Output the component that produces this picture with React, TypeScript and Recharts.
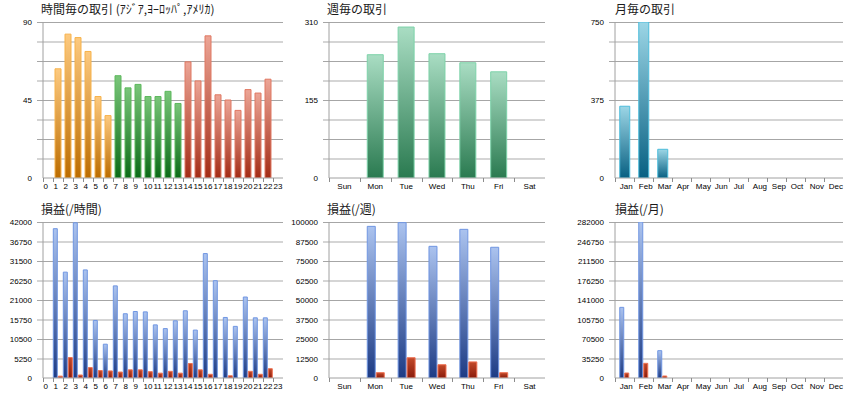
import React from 'react';
import { BarChart, Bar, XAxis, YAxis, CartesianGrid, Cell } from 'recharts';

// ---------- data ----------
const hourLabels = ['0', '1', '2', '3', '4', '5', '6', '7', '8', '9', '10', '11', '12', '13', '14', '15', '16', '17', '18', '19', '20', '21', '22', '23'];
const hourRegion = ['asia', 'asia', 'asia', 'asia', 'asia', 'asia', 'asia', 'europe', 'europe', 'europe', 'europe', 'europe', 'europe', 'europe', 'america', 'america', 'america', 'america', 'america', 'america', 'america', 'america', 'america', 'america'];
const hourlyTrades = [null, 63, 83, 81, 73, 47, 36, 59, 52, 54, 47, 47, 50, 43, 67, 56, 82, 48, 45, 39, 51, 49, 57, null];
const hourlyProfit = [null, 40200, 28500, 41800, 29100, 15500, 9100, 24800, 17300, 17900, 17800, 14300, 13300, 15400, 18100, 12900, 33500, 26200, 16300, 13900, 21800, 16200, 16200, null];
const hourlyLoss = [null, 500, 5500, 800, 2800, 2000, 1900, 1600, 2200, 2200, 1700, 1300, 1800, 1300, 3900, 2200, 1000, null, 600, null, 1800, 1000, 2500, null];

const weekLabels = ['Sun', 'Mon', 'Tue', 'Wed', 'Thu', 'Fri', 'Sat'];
const weeklyTrades = [null, 245, 300, 247, 229, 211, null];
const weeklyProfit = [null, 97200, 99600, 84400, 95300, 83800, null];
const weeklyLoss = [null, 3400, 13000, 8500, 10300, 3400, null];

const monthLabels = ['Jan', 'Feb', 'Mar', 'Apr', 'May', 'Jun', 'Jul', 'Aug', 'Sep', 'Oct', 'Nov', 'Dec'];
const monthlyTrades = [345, 750, 138, null, null, null, null, null, null, null, null, null];
const monthlyProfit = [127700, 282000, 49400, null, null, null, null, null, null, null, null, null];
const monthlyLoss = [9000, 26500, 3600, null, null, null, null, null, null, null, null, null];

// tick values and labels
const hourTradeTicks = [0, 11.25, 22.5, 33.75, 45, 56.25, 67.5, 78.75, 90];
const hourTradeTickLabels = ['0', '', '', '', '45', '', '', '', '90'];
const weekTradeTicks = [0, 38.75, 77.5, 116.25, 155, 193.75, 232.5, 271.25, 310];
const weekTradeTickLabels = ['0', '', '', '', '155', '', '', '', '310'];
const monthTradeTicks = [0, 93.75, 187.5, 281.25, 375, 468.75, 562.5, 656.25, 750];
const monthTradeTickLabels = ['0', '', '', '', '375', '', '', '', '750'];
const hourProfitTicks = [0, 5250, 10500, 15750, 21000, 26250, 31500, 36750, 42000];
const hourProfitTickLabels = ['0', '5250', '10500', '15750', '21000', '26250', '31500', '36750', '42000'];
const weekProfitTicks = [0, 12500, 25000, 37500, 50000, 62500, 75000, 87500, 100000];
const weekProfitTickLabels = ['0', '12500', '25000', '37500', '50000', '62500', '75000', '87500', '100000'];
const monthProfitTicks = [0, 35250, 70500, 105750, 141000, 176250, 211500, 246750, 282000];
const monthProfitTickLabels = ['0', '35250', '70500', '105750', '141000', '176250', '211500', '246750', '282000'];

const titles = {
  hourTrades: '時間毎の取引 (ｱｼﾞｱ,ﾖｰﾛｯﾊﾟ,ｱﾒﾘｶ)',
  weekTrades: '週毎の取引',
  monthTrades: '月毎の取引',
  hourProfit: '損益(/時間)',
  weekProfit: '損益(/週)',
  monthProfit: '損益(/月)',
};

// ---------- styles ----------
const AXIS_FONT = '"Liberation Sans", Arial, sans-serif';
const TITLE_FONT = '"Noto Sans CJK JP", "Noto Sans", sans-serif';
const PLOT_TOP = 22;
const PLOT_H = 156;
const CHART_H = 200;

const regionFill: Record<string, string> = { asia: 'url(#g-asia)', europe: 'url(#g-europe)', america: 'url(#g-america)' };
const regionStroke: Record<string, string> = { asia: '#f7b24a', europe: '#5cb85c', america: '#e07862' };

const gradients = [
  { id: 'g-asia', top: '#fdca80', bottom: '#bb6c00' },
  { id: 'g-europe', top: '#7ac67a', bottom: '#0b6a17' },
  { id: 'g-america', top: '#eca596', bottom: '#a32c16' },
  { id: 'g-week', top: '#a9ddc3', bottom: '#2a7a50' },
  { id: 'g-month', top: '#9cd6e6', bottom: '#086082' },
  { id: 'g-profit', top: '#abc3ef', bottom: '#1d3b84' },
  { id: 'g-loss', top: '#c24a2a', bottom: '#8a1b0b' },
];

const gridLine = (p: any) => {
  const idx = Math.round((p.y1 - PLOT_TOP) / (PLOT_H / 8));
  const k = p.key ?? `gl-${idx}`;
  if (idx >= 8) return <g key={k} />;
  const odd = idx % 2 === 1;
  const y = odd ? Math.round(p.y1) : Math.round(p.y1) + 0.5;
  return (
    <line
      key={k}
      x1={p.x1 - 6}
      x2={p.x2}
      y1={y}
      y2={y}
      stroke={odd ? '#d5d5d5' : '#a6a6a6'}
      strokeWidth={odd ? 2 : 1}
    />
  );
};

const makeYTick = (ticks: number[], labels: string[]) => (p: any) => {
  const i = ticks.indexOf(p.payload.value);
  const lab = labels[i];
  if (!lab) return <g />;
  return (
    <text x={p.x - 11} y={p.y + 3} textAnchor="end" fontSize={8} fontFamily={AXIS_FONT} fill="#000">
      {lab}
    </text>
  );
};

const makeXTick = (band: number, mode: 'start' | 'middle', offset: number) => (p: any) => {
  const bx = Math.round(p.x - band / 2) + 0.5;
  return (
    <g>
      <line x1={bx} x2={bx} y1={p.y} y2={p.y + 4} stroke="#8c8c8c" />
      <text
        x={mode === 'start' ? p.x - offset : p.x}
        y={p.y + 11}
        textAnchor={mode}
        fontSize={8}
        fontFamily={AXIS_FONT}
        fill="#000"
      >
        {p.payload.value}
      </text>
    </g>
  );
};

type BarDef = { key: string; fill: (i: number) => string; stroke: (i: number) => string };

type PanelProps = {
  left: number;
  top: number;
  width: number;
  plotLeft: number;
  plotRight: number;
  data: any[];
  ticks: number[];
  tickLabels: string[];
  bars: BarDef[];
  barCategoryGap: string;
  barGap: number;
  xMode: 'start' | 'middle';
  xOffset: number;
};

function Panel(props: PanelProps) {
  const { left, top, width, plotLeft, plotRight, data, ticks, tickLabels, bars, barCategoryGap, barGap, xMode, xOffset } = props;
  const yAxisWidth = plotLeft - left;
  const marginRight = left + width - plotRight;
  const band = (plotRight - plotLeft) / data.length;
  return (
    <div style={{ position: 'absolute', left, top, width, height: CHART_H }}>
      <BarChart
        width={width}
        height={CHART_H}
        data={data}
        margin={{ top: PLOT_TOP, right: marginRight, bottom: 0, left: 0 }}
        barCategoryGap={barCategoryGap}
        barGap={barGap}
      >
        <CartesianGrid horizontal={gridLine} vertical={false} />
        <XAxis
          dataKey="name"
          interval={0}
          height={CHART_H - PLOT_TOP - PLOT_H}
          tickSize={0}
          tickMargin={0}
          tickLine={false}
          axisLine={{ stroke: '#a0a0a0' }}
          tick={makeXTick(band, xMode, xOffset)}
        />
        <YAxis
          width={yAxisWidth}
          domain={[ticks[0], ticks[ticks.length - 1]]}
          ticks={ticks}
          interval={0}
          tickSize={0}
          tickMargin={0}
          tickLine={false}
          axisLine={{ stroke: '#a0a0a0' }}
          tick={makeYTick(ticks, tickLabels)}
          allowDataOverflow
        />
        {bars.map((b) => (
          <Bar key={b.key} dataKey={b.key} isAnimationActive={false}>
            {data.map((_, i) => (
              <Cell key={`c-${b.key}-${i}`} fill={b.fill(i)} stroke={b.stroke(i)} strokeWidth={1} />
            ))}
          </Bar>
        ))}
      </BarChart>
    </div>
  );
}

// ---------- tables built from arrays ----------
const hourTradeData = hourLabels.map((name, i) => ({ name, v: hourlyTrades[i] }));
const hourProfitData = hourLabels.map((name, i) => ({ name, p: hourlyProfit[i], l: hourlyLoss[i] }));
const weekTradeData = weekLabels.map((name, i) => ({ name, v: weeklyTrades[i] }));
const weekProfitData = weekLabels.map((name, i) => ({ name, p: weeklyProfit[i], l: weeklyLoss[i] }));
const monthTradeData = monthLabels.map((name, i) => ({ name, v: monthlyTrades[i] }));
const monthProfitData = monthLabels.map((name, i) => ({ name, p: monthlyProfit[i], l: monthlyLoss[i] }));

const profitBars: BarDef[] = [
  { key: 'p', fill: () => 'url(#g-profit)', stroke: () => '#7096e2' },
  { key: 'l', fill: () => 'url(#g-loss)', stroke: () => '#ee7052' },
];

const titlePos = [
  { text: titles.hourTrades, x: 41, y: 14 },
  { text: titles.weekTrades, x: 327, y: 14 },
  { text: titles.monthTrades, x: 615, y: 14 },
  { text: titles.hourProfit, x: 41, y: 214 },
  { text: titles.weekProfit, x: 327, y: 214 },
  { text: titles.monthProfit, x: 615, y: 214 },
];

export default function App() {
  return (
    <div style={{ position: 'absolute', left: 0, top: 0, width: 860, height: 400, background: '#fff', overflow: 'hidden' }}>
      <svg width={0} height={0} style={{ position: 'absolute' }}>
        <defs>
          {gradients.map((g) => (
            <linearGradient key={g.id} id={g.id} x1="0" y1="0" x2="0" y2="1">
              <stop offset="0%" stopColor={g.top} />
              <stop offset="100%" stopColor={g.bottom} />
            </linearGradient>
          ))}
        </defs>
      </svg>

      <Panel
        left={0} top={0} width={290} plotLeft={43} plotRight={283}
        data={hourTradeData} ticks={hourTradeTicks} tickLabels={hourTradeTickLabels}
        bars={[{ key: 'v', fill: (i) => regionFill[hourRegion[i]], stroke: (i) => regionStroke[hourRegion[i]] }]}
        barCategoryGap="20%" barGap={1} xMode="start" xOffset={4.5}
      />
      <Panel
        left={290} top={0} width={285} plotLeft={329} plotRight={545}
        data={weekTradeData} ticks={weekTradeTicks} tickLabels={weekTradeTickLabels}
        bars={[{ key: 'v', fill: () => 'url(#g-week)', stroke: () => '#7dd2a9' }]}
        barCategoryGap="24%" barGap={1} xMode="middle" xOffset={0}
      />
      <Panel
        left={575} top={0} width={285} plotLeft={615} plotRight={843}
        data={monthTradeData} ticks={monthTradeTicks} tickLabels={monthTradeTickLabels}
        bars={[{ key: 'v', fill: () => 'url(#g-month)', stroke: () => '#4cbcdb' }]}
        barCategoryGap="25%" barGap={1} xMode="start" xOffset={4.7}
      />
      <Panel
        left={0} top={200} width={290} plotLeft={43} plotRight={283}
        data={hourProfitData} ticks={hourProfitTicks} tickLabels={hourProfitTickLabels}
        bars={profitBars}
        barCategoryGap="3%" barGap={1} xMode="start" xOffset={4.5}
      />
      <Panel
        left={290} top={200} width={285} plotLeft={329} plotRight={545}
        data={weekProfitData} ticks={weekProfitTicks} tickLabels={weekProfitTickLabels}
        bars={profitBars}
        barCategoryGap="24%" barGap={1} xMode="middle" xOffset={0}
      />
      <Panel
        left={575} top={200} width={285} plotLeft={615} plotRight={843}
        data={monthProfitData} ticks={monthProfitTicks} tickLabels={monthProfitTickLabels}
        bars={profitBars}
        barCategoryGap="25%" barGap={1} xMode="start" xOffset={4.7}
      />

      <svg width={860} height={400} style={{ position: 'absolute', left: 0, top: 0, pointerEvents: 'none' }}>
        {titlePos.map((t, i) => (
          <text key={i} x={t.x} y={t.y} fontSize={12} fontFamily={TITLE_FONT} fill="#1a1a1a">
            {t.text}
          </text>
        ))}
      </svg>
    </div>
  );
}
